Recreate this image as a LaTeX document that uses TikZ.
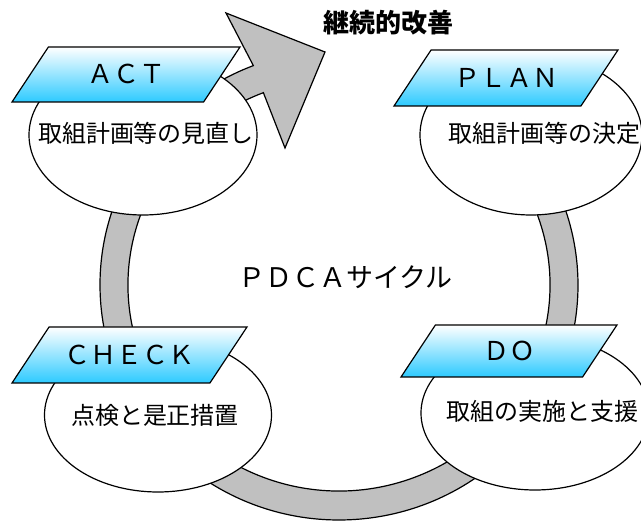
\documentclass[tikz,border=0pt]{standalone}
\usepackage{fontspec}
\setmainfont{Noto Sans CJK JP}
\usetikzlibrary{shapes.geometric}
\definecolor{ringgray}{RGB}{192,192,192}
\definecolor{tagblue}{RGB}{45,202,255}
\newcommand{\jpsize}[1]{\fontsize{#1}{#1}\selectfont}

\begin{document}
\begin{tikzpicture}[x=1pt,y=1pt]
        %\draw[help lines,step=50] (0,0) grid (641,522);
        \tikzset{Ring/.style = {draw, line width=1.2pt, fill=ringgray, line join=miter}}
        \tikzset{Disc/.style = {ellipse, draw, line width=1.2pt, fill=white, inner sep=0pt}}
        \tikzset{Tag/.style = {trapezium, trapezium left angle=56.5, trapezium right angle=123.5,
                trapezium stretches body, draw, line width=1.2pt, top color=white,
                bottom color=tagblue, inner xsep=0pt, text height=19, text depth=0,
                font=\jpsize{26}}}
        \tikzset{Say/.style = {inner sep=0pt, font=\jpsize{24}}}
        \useasboundingbox (0,0) rectangle (641,522);
        % ring with arrow head
        \coordinate (C) at (339,237);
        \coordinate (headTop) at (226,509);
        \coordinate (headTip) at (325,470);
        \coordinate (headBot) at (285,374);
        \draw[Ring] ([shift={(50:239 and 235)}]C) arc[start angle=50, end angle=-249, x radius=239, y radius=235]
                -- (headTop) -- (headTip) -- (headBot)
                -- ([shift={(111:211 and 206)}]C) arc[start angle=-249, end angle=50, x radius=211, y radius=206] -- cycle;
        % ellipses
        \node[Disc, minimum width=228, minimum height=160] (actE) at (143,387) {};
        \node[Disc, minimum width=222, minimum height=160] (planE) at (531,387) {};
        \node[Disc, minimum width=227, minimum height=154] (checkE) at (158,107) {};
        \node[Disc, minimum width=228, minimum height=154] (doE) at (535,109) {};
        % tags
        \node[Tag, minimum width=228, inner ysep=18] (actL) at (126,447.5) {ＡＣＴ};
        \node[Tag, minimum width=224, inner ysep=18.5] (planL) at (506,444) {ＰＬＡＮ};
        \node[Tag, minimum width=235, inner ysep=18.5] (checkL) at (129.5,167) {ＣＨＥＣＫ};
        \node[Tag, minimum width=216, inner ysep=16.5] (doL) at (509,171) {ＤＯ};
        % texts
        \node[Say] (actT) at (146,389) {取組計画等の見直し};
        \node[Say] (planT) at (544,389) {取組計画等の決定};
        \node[Say] (checkT) at (155,107) {点検と是正措置};
        \node[Say] (doT) at (542,111) {取組の実施と支援};
        \node[inner sep=0pt, font=\jpsize{26}\bfseries] (title) at (388,499) {継続的改善};
        \node[inner sep=0pt, font=\jpsize{27}] (cycle) at (345.5,245) {ＰＤＣＡサイクル};
\end{tikzpicture}
\end{document}
